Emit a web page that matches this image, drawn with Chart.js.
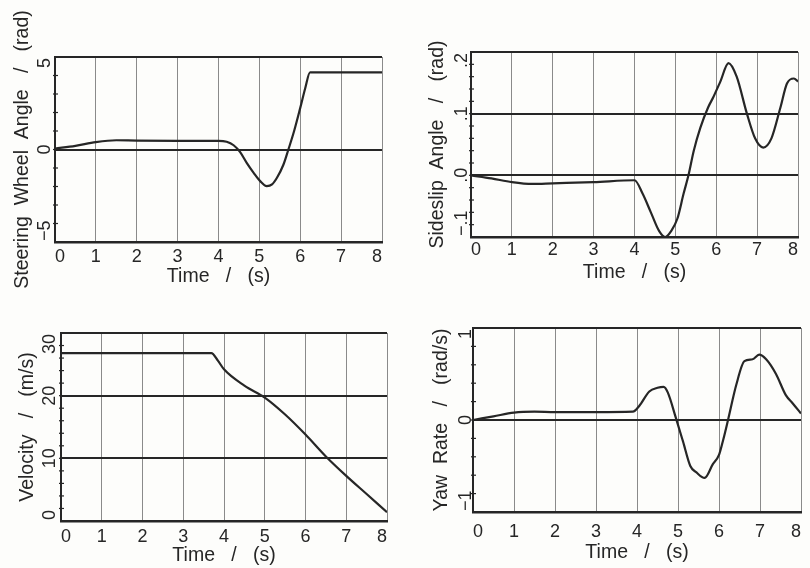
<!DOCTYPE html>
<html>
<head>
<meta charset="utf-8">
<script src="https://cdn.jsdelivr.net/npm/chart.js@4.4.1/dist/chart.umd.min.js"></script>
<style>
  html, body { margin: 0; padding: 0; background: #fdfdfb; }
  #sheet { position: relative; width: 810px; height: 568px; overflow: hidden; }
  #sheet canvas { position: absolute; }
</style>
</head>
<body>
<div id="sheet">
  <canvas id="steer-chart" width="400" height="290" style="left:0;top:0"></canvas>
  <canvas id="slip-chart" width="410" height="290" style="left:400px;top:0"></canvas>
  <canvas id="speed-chart" width="400" height="278" style="left:0;top:290px"></canvas>
  <canvas id="yaw-chart" width="410" height="278" style="left:400px;top:290px"></canvas>
</div>
<script>
// time axis, shared by all four panels
const time_ticks = [0, 1, 2, 3, 4, 5, 6, 7, 8];

// steering wheel angle (rad)
const steer_t = [0, 0.5, 1.0, 1.5, 2.0, 3.0, 4.0, 4.2, 4.37, 4.53, 4.69, 4.86, 5.02, 5.18, 5.31, 5.43, 5.59, 5.71, 5.85, 6.0, 6.12, 6.24, 7.0, 8.0];
const steer_v = [0.05, 0.2, 0.4, 0.5, 0.48, 0.47, 0.47, 0.42, 0.23, -0.14, -0.72, -1.26, -1.71, -1.98, -1.89, -1.53, -0.81, 0, 1.0, 2.25, 3.3, 4.17, 4.17, 4.17];
const steer_ticks = [-5, 0, 5];
const steer_labels = ["\u22125", "0", "5"];

// sideslip angle (rad)
const slip_t = [0, 0.5, 1.0, 1.5, 2.0, 3.0, 4.0, 4.2, 4.4, 4.6, 4.75, 4.9, 5.05, 5.2, 5.32, 5.45, 5.61, 5.8, 5.93, 6.1, 6.3, 6.5, 6.75, 6.95, 7.15, 7.35, 7.57, 7.73, 7.9, 8.0];
const slip_v = [0, -0.005, -0.011, -0.014, -0.013, -0.011, -0.008, -0.03, -0.06, -0.09, -0.1, -0.09, -0.07, -0.03, 0, 0.04, 0.077, 0.11, 0.127, 0.152, 0.182, 0.16, 0.1, 0.06, 0.045, 0.06, 0.11, 0.149, 0.157, 0.152];
const slip_ticks = [-0.1, 0, 0.1, 0.2];
const slip_labels = ["\u2212.1", ".0", ".1", ".2"];

// velocity (m/s)
const speed_t = [0, 1, 2, 3, 3.69, 3.85, 4.0, 4.5, 5.0, 5.5, 6.0, 6.5, 7.0, 7.5, 8.0];
const speed_v = [26.8, 26.8, 26.8, 26.8, 26.8, 25.6, 24.2, 21.6, 19.7, 17.0, 13.8, 10.3, 7.2, 4.3, 1.4];
const speed_ticks = [0, 10, 20, 30];
const speed_labels = ["0", "10", "20", "30"];

// yaw rate (rad/s)
const yaw_t = [0, 0.5, 1.0, 1.5, 2.0, 3.0, 3.9, 4.05, 4.3, 4.5, 4.65, 4.75, 4.95, 5.12, 5.3, 5.45, 5.65, 5.85, 6.0, 6.1, 6.22, 6.42, 6.62, 6.82, 6.98, 7.15, 7.39, 7.63, 7.8, 8.0];
const yaw_v = [0, 0.04, 0.08, 0.09, 0.085, 0.085, 0.09, 0.15, 0.31, 0.35, 0.36, 0.3, 0.02, -0.23, -0.5, -0.57, -0.63, -0.48, -0.38, -0.22, 0, 0.38, 0.64, 0.66, 0.71, 0.66, 0.5, 0.27, 0.18, 0.07];
const yaw_ticks = [-1, 0, 1];
const yaw_labels = ["\u22121", "0", "1"];

const INK = "#262626";
const FONT = '"Liberation Sans", Arial, sans-serif';

// rotated value labels and little minor ticks on the left axis
const side_labels = {
    id: "side_labels",
    afterDraw(chart, args, opts) {
        const ctx = chart.ctx;
        const { left, top, bottom } = chart.chartArea;
        const scale = chart.scales.y;

        ctx.save();
        ctx.strokeStyle = INK;
        ctx.lineWidth = 1.2;
        const steps = Math.round((scale.max - scale.min) / opts.minor);
        for (let i = 1; i < steps; i++) {
            const py = scale.getPixelForValue(scale.min + i * opts.minor);
            ctx.beginPath();
            ctx.moveTo(left - 2, py);
            ctx.lineTo(left + 3, py);
            ctx.stroke();
        }

        ctx.font = `18px ${FONT}`;
        ctx.fillStyle = INK;
        ctx.textAlign = "center";
        ctx.textBaseline = "alphabetic";
        opts.values.forEach((v, i) => {
            const text = opts.labels[i];
            const half = ctx.measureText(text).width / 2;
            let c = scale.getPixelForValue(v);
            c = Math.min(Math.max(c, top + half + 1), bottom - half - 1);
            ctx.save();
            ctx.translate(left - opts.gap, c);
            ctx.rotate(-Math.PI / 2);
            ctx.fillText(text, 0, 0);
            ctx.restore();
        });
        ctx.restore();
    }
};

function make_points(ts, vs) {
    return ts.map((t, i) => ({ x: t, y: vs[i] }));
}

function make_chart(id, spec) {
    const canvas = document.getElementById(id);
    return new Chart(canvas, {
        type: "line",
        data: {
            datasets: [{
                data: make_points(spec.t, spec.v),
                borderColor: INK,
                borderWidth: 2.2,
                pointRadius: 0,
                cubicInterpolationMode: "monotone",
                fill: false
            }]
        },
        plugins: [side_labels],
        options: {
            responsive: false,
            animation: false,
            devicePixelRatio: 1,
            layout: { padding: { left: 0, top: spec.top, right: spec.right, bottom: 0 } },
            plugins: {
                legend: { display: false },
                tooltip: { enabled: false },
                side_labels: { values: spec.ticks, labels: spec.labels, minor: spec.minor, gap: spec.gap }
            },
            scales: {
                x: {
                    type: "linear",
                    min: 0,
                    max: 8,
                    afterBuildTicks: (s) => { s.ticks = time_ticks.map(v => ({ value: v })); },
                    afterFit: (s) => { s.height = spec.x_height; },
                    grid: {
                        drawTicks: false,
                        color: (c) => c.index === 0 ? INK : "#8a8a8a",
                        lineWidth: (c) => c.index === 0 ? 2 : 1
                    },
                    border: { display: true, color: INK, width: 2.5 },
                    ticks: {
                        color: INK,
                        font: { family: FONT, size: 18 },
                        padding: spec.x_pad,
                        align: "inner",
                        maxRotation: 0,
                        autoSkip: false
                    },
                    title: {
                        display: true,
                        text: "Time   /   (s)",
                        color: INK,
                        font: { family: FONT, size: 19.5 },
                        padding: { top: 0, bottom: spec.x_title_pad }
                    }
                },
                y: {
                    type: "linear",
                    min: spec.min,
                    max: spec.max,
                    afterBuildTicks: (s) => { s.ticks = [spec.min, ...spec.ticks, spec.max].map(v => ({ value: v })); },
                    afterFit: (s) => { s.width = spec.y_width; },
                    grid: { drawTicks: false, color: INK, lineWidth: 2 },
                    border: { display: true, color: INK, width: 2 },
                    ticks: { display: false },
                    title: {
                        display: true,
                        text: spec.title,
                        color: INK,
                        font: { family: FONT, size: 19.5 },
                        padding: { top: spec.y_title_pad, bottom: 0 }
                    }
                }
            }
        }
    });
}

make_chart("steer-chart", {
    t: steer_t, v: steer_v, ticks: steer_ticks, labels: steer_labels,
    min: -5, max: 5, minor: 1,
    title: "Steering  Wheel  Angle   /   (rad)",
    top: 57, right: 18, y_width: 55, x_height: 48,
    x_pad: 4, x_title_pad: 2, y_title_pad: 11, gap: 5
});

make_chart("slip-chart", {
    t: slip_t, v: slip_v, ticks: slip_ticks, labels: slip_labels,
    min: -0.1, max: 0.2, minor: 0.02,
    title: "Sideslip  Angle   /   (rad)",
    top: 52, right: 12, y_width: 71, x_height: 53,
    x_pad: 2, x_title_pad: 6, y_title_pad: 26, gap: 4
});

make_chart("speed-chart", {
    t: speed_t, v: speed_v, ticks: speed_ticks, labels: speed_labels,
    min: 0, max: 30, minor: 2,
    title: "Velocity   /   (m/s)",
    top: 43, right: 13, y_width: 61, x_height: 47,
    x_pad: 5, x_title_pad: 1, y_title_pad: 16, gap: 6
});

make_chart("yaw-chart", {
    t: yaw_t, v: yaw_v, ticks: yaw_ticks, labels: yaw_labels,
    min: -1, max: 1, minor: 0.2,
    title: "Yaw  Rate   /   (rad/s)",
    top: 38, right: 8, y_width: 73, x_height: 56,
    x_pad: 9, x_title_pad: 4, y_title_pad: 30, gap: 2
});
</script>
</body>
</html>
